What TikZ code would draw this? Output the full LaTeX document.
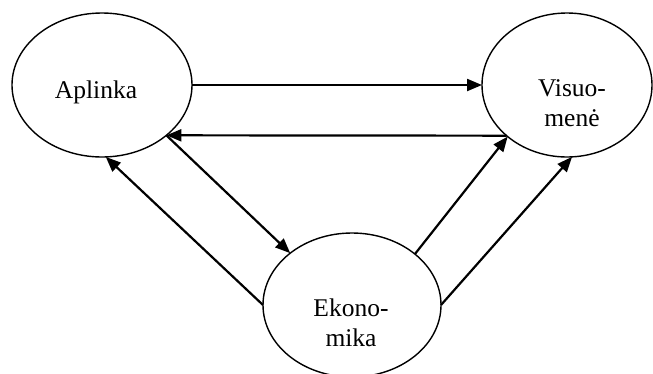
\documentclass[tikz,border=0pt]{standalone}
\usepackage{fontspec}
\setmainfont{Liberation Serif}
\usetikzlibrary{arrows.meta,shapes.geometric}
\begin{document}
\begin{tikzpicture}[x=1pt,y=-1pt,
  oval/.style={draw, ellipse, line width=1.4pt, inner sep=0pt, outer sep=0pt},
  lbl/.style={font=\fontsize{25.5}{30}\selectfont, align=center, inner sep=0pt},
  link/.style={line width=2.2pt, -{Triangle[length=15pt,width=12pt]}}]
\useasboundingbox (0,0) rectangle (653,373);
\node[oval, minimum width=180pt, minimum height=144pt] (A) at (102,85) {};
\node[oval, minimum width=170pt, minimum height=144pt] (V) at (567,85) {};
\node[oval, minimum width=178pt, minimum height=144pt] (E) at (352,305) {};
\node[lbl, anchor=base] (tA) at (96,98) {Aplinka};
\node[lbl] (tV) at (572,103.5) {Visuo-\\menė};
\node[lbl] (tE) at (351,323) {Ekono-\\mika};
\draw[link] (A.east) -- (V.west);
\draw[link] (V.220.4) -- (A.-38.8);
\draw[link] (A.-38.8) -- (E.140.8);
\draw[link] (E.west) -- (A.-87.6);
\draw[link] (E.39.5) -- (V.221.5);
\draw[link] (E.east) -- (V.-86.9);
\end{tikzpicture}
\end{document}
